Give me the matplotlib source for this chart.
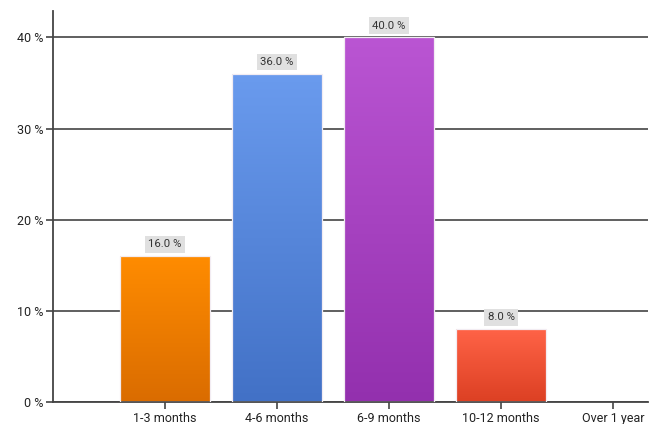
import numpy as np
import matplotlib
matplotlib.use('Agg')
import matplotlib.pyplot as plt
from matplotlib.colors import LinearSegmentedColormap

# Данные
categories = ['1-3 months', '4-6 months', '6-9 months', '10-12 months', 'Over 1 year']
shares = [16.0, 36.0, 40.0, 8.0, 0.0]
y_ticks = [0, 10, 20, 30, 40]

# Цвета столбцов: верх и низ градиента
top_colors = ['#FF8C00', '#6A9BEE', '#BA55D3', '#FF6347', '#999999']
bottom_colors = ['#DA6C00', '#4271C6', '#9330AE', '#DC4023', '#777777']

plt.rcParams['font.family'] = ['Segoe UI', 'Roboto', 'DejaVu Sans']

fig = plt.figure(figsize=(6.58, 4.24), dpi=100)
ax = fig.add_axes([53 / 658, 22 / 424, 595 / 658, 391 / 424])

x = np.arange(1, len(categories) + 1)
bars = ax.bar(x, shares, width=0.8, color='none', edgecolor='#F2ECF2', linewidth=0.9, zorder=3)

# Градиентная заливка каждого столбца
grad = np.linspace(0, 1, 256).reshape(-1, 1)
for bar, c_top, c_bot, val in zip(bars, top_colors, bottom_colors, shares):
    if val <= 0:
        bar.set_visible(False)
        continue
    cmap = LinearSegmentedColormap.from_list('g', [c_bot, c_top])
    x0 = bar.get_x()
    w = bar.get_width()
    im = ax.imshow(grad, cmap=cmap, aspect='auto', origin='lower',
                   extent=(x0, x0 + w, 0, val), zorder=2)
    im.set_clip_path(bar)

    # Подпись значения в серой плашке
    ax.text(bar.get_x() + w / 2, val + 0.75, f'{val:.1f} %', ha='center', va='bottom',
            fontsize=8.2, color='#333333', zorder=4,
            bbox=dict(boxstyle='square,pad=0.3', facecolor='#E0E0E0', edgecolor='none'))

ax.set_xlim(0, 5.31)
ax.set_ylim(0, 42.9)
ax.set_xticks(x)
ax.set_xticklabels(categories, fontsize=9, color='#222222')
ax.set_yticks(y_ticks)
ax.set_yticklabels([f'{t} %' for t in y_ticks], fontsize=9, color='#222222')

ax.grid(axis='y', color='#444444', linewidth=1.2, zorder=1)
ax.set_axisbelow(True)
for side in ['top', 'right']:
    ax.spines[side].set_visible(False)
for side in ['left', 'bottom']:
    ax.spines[side].set_color('#444444')
    ax.spines[side].set_linewidth(1.3)
ax.tick_params(axis='both', colors='#444444', length=5, width=1.2, labelcolor='#222222')
ax.tick_params(axis='y', pad=2)
ax.tick_params(axis='x', pad=2)

fig.savefig('out.png', dpi=100, facecolor='white')
